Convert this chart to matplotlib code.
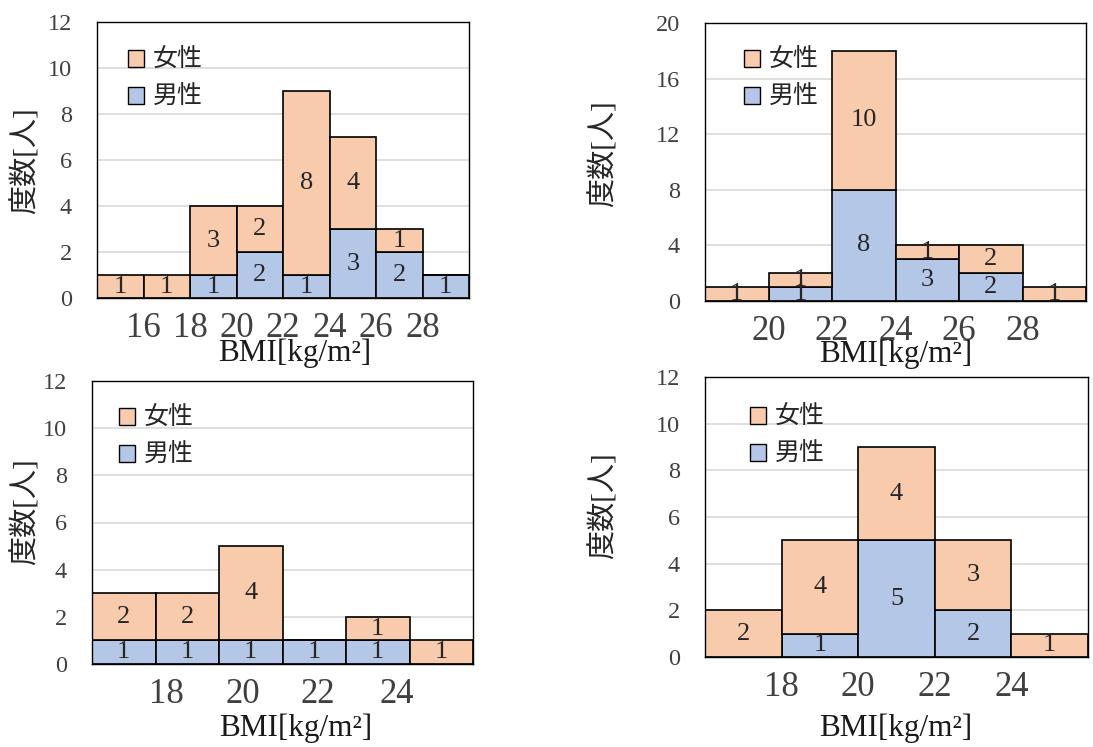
import matplotlib
matplotlib.use("Agg")
import matplotlib.pyplot as plt
from matplotlib.patches import Patch

plt.rcParams['font.family'] = ['Liberation Serif', 'Noto Sans CJK JP']

# ----------------------------------------------------------------------------------------------------------------------
# data (counts per BMI class, stacked: male at bottom, female on top)
p1_male = [0, 0, 1, 2, 1, 3, 2, 1]
p1_female = [1, 1, 3, 2, 8, 4, 1, 0]
p1_ticklabels = ['16', '18', '20', '22', '24', '26', '28']

p2_male = [0, 1, 8, 3, 2, 0]
p2_female = [1, 1, 10, 1, 2, 1]
p2_ticklabels = ['20', '22', '24', '26', '28']

p3_male = [1, 1, 1, 1, 1, 0]
p3_female = [2, 2, 4, 0, 1, 1]
p3_ticklabels = ['18', '20', '22', '24']

p4_male = [0, 1, 5, 2, 0]
p4_female = [2, 4, 4, 3, 1]
p4_ticklabels = ['18', '20', '22', '24']

label_female = '女性'
label_male = '男性'
label_y = '度数[人]'
label_x = 'BMI[kg/m²]'
# ----------------------------------------------------------------------------------------------------------------------

W, H = 1093, 747
col_female = '#F8CBAD'
col_male = '#B4C7E7'
col_text = '#404040'

fig = plt.figure(figsize=(W / 100, H / 100), dpi=100)


def px_axes(left, right, top, bottom):
    return fig.add_axes([left / W, 1 - bottom / H, (right - left) / W, (bottom - top) / H])


def draw_panel(box, male, female, ticklabels, tick_pos, ymax, ystep,
               legend_xy, ylabel_xy, xlabel_xy):
    left, right, top, bottom = box
    ax = px_axes(left, right, top, bottom)
    n = len(male)
    xs = [i + 0.5 for i in range(n)]

    ax.bar(xs, male, width=1.0, color=col_male, edgecolor='black', linewidth=1.2, zorder=2)
    ax.bar(xs, female, width=1.0, bottom=male, color=col_female, edgecolor='black', linewidth=1.2, zorder=2)

    # data labels
    for x, m, f in zip(xs, male, female):
        if m > 0:
            ax.text(x, m / 2.0, str(m), ha='center', va='center', fontsize=19, color='#262626', zorder=3)
        if f > 0:
            ax.text(x, m + f / 2.0, str(f), ha='center', va='center', fontsize=19, color='#262626', zorder=3)

    ax.set_xlim(0, n)
    ax.set_ylim(0, ymax)
    ax.set_yticks(range(0, ymax + 1, ystep))
    ax.yaxis.grid(True, color='#D9D9D9', linewidth=1.2, zorder=0)
    ax.set_axisbelow(True)
    ax.set_xticks(tick_pos)
    ax.set_xticklabels(ticklabels)
    ax.tick_params(axis='x', length=0, labelsize=25, pad=10, colors=col_text)
    ax.tick_params(axis='y', length=0, labelsize=17.5, pad=18, colors=col_text)
    for sp in ax.spines.values():
        sp.set_color('black')
        sp.set_linewidth(1.0)

    aw, ah = right - left, bottom - top

    ax.set_xlabel(label_x, fontsize=22.5, color='#1a1a1a')
    ax.xaxis.set_label_coords((xlabel_xy[0] - left) / aw, (bottom - xlabel_xy[1]) / ah)
    ax.xaxis.label.set_va('center')

    ax.set_ylabel(label_y, fontsize=21, color='#262626')
    ax.yaxis.set_label_coords((ylabel_xy[0] - left) / aw, (bottom - ylabel_xy[1]) / ah)
    ax.yaxis.label.set_va('center')

    handles = [Patch(facecolor=col_female, edgecolor='black', linewidth=1.0),
               Patch(facecolor=col_male, edgecolor='black', linewidth=1.0)]
    ax.legend(handles, [label_female, label_male], loc='upper left',
              bbox_to_anchor=((legend_xy[0] - left) / aw, (bottom - legend_xy[1]) / ah),
              frameon=False, fontsize=18, handlelength=0.65, handleheight=0.65,
              handletextpad=0.35, labelspacing=0.55, borderpad=0, borderaxespad=0,
              labelcolor='#262626')
    return ax


draw_panel((97, 469, 22, 298), p1_male, p1_female, p1_ticklabels, [1, 2, 3, 4, 5, 6, 7], 12, 2,
           (128, 49), (25, 161), (295, 353))
draw_panel((705, 1086, 23, 301), p2_male, p2_female, p2_ticklabels, [1, 2, 3, 4, 5], 20, 4,
           (744, 49), (603, 154), (896, 354))
draw_panel((92, 473, 381, 664), p3_male, p3_female, p3_ticklabels, [1.18, 2.38, 3.56, 4.8], 12, 2,
           (119, 407), (25, 512), (296, 728))
draw_panel((705, 1088, 377, 657), p4_male, p4_female, p4_ticklabels, [1, 2, 3, 4], 12, 2,
           (750, 406), (603, 506), (896, 728))

fig.savefig('out.png', dpi=100)
